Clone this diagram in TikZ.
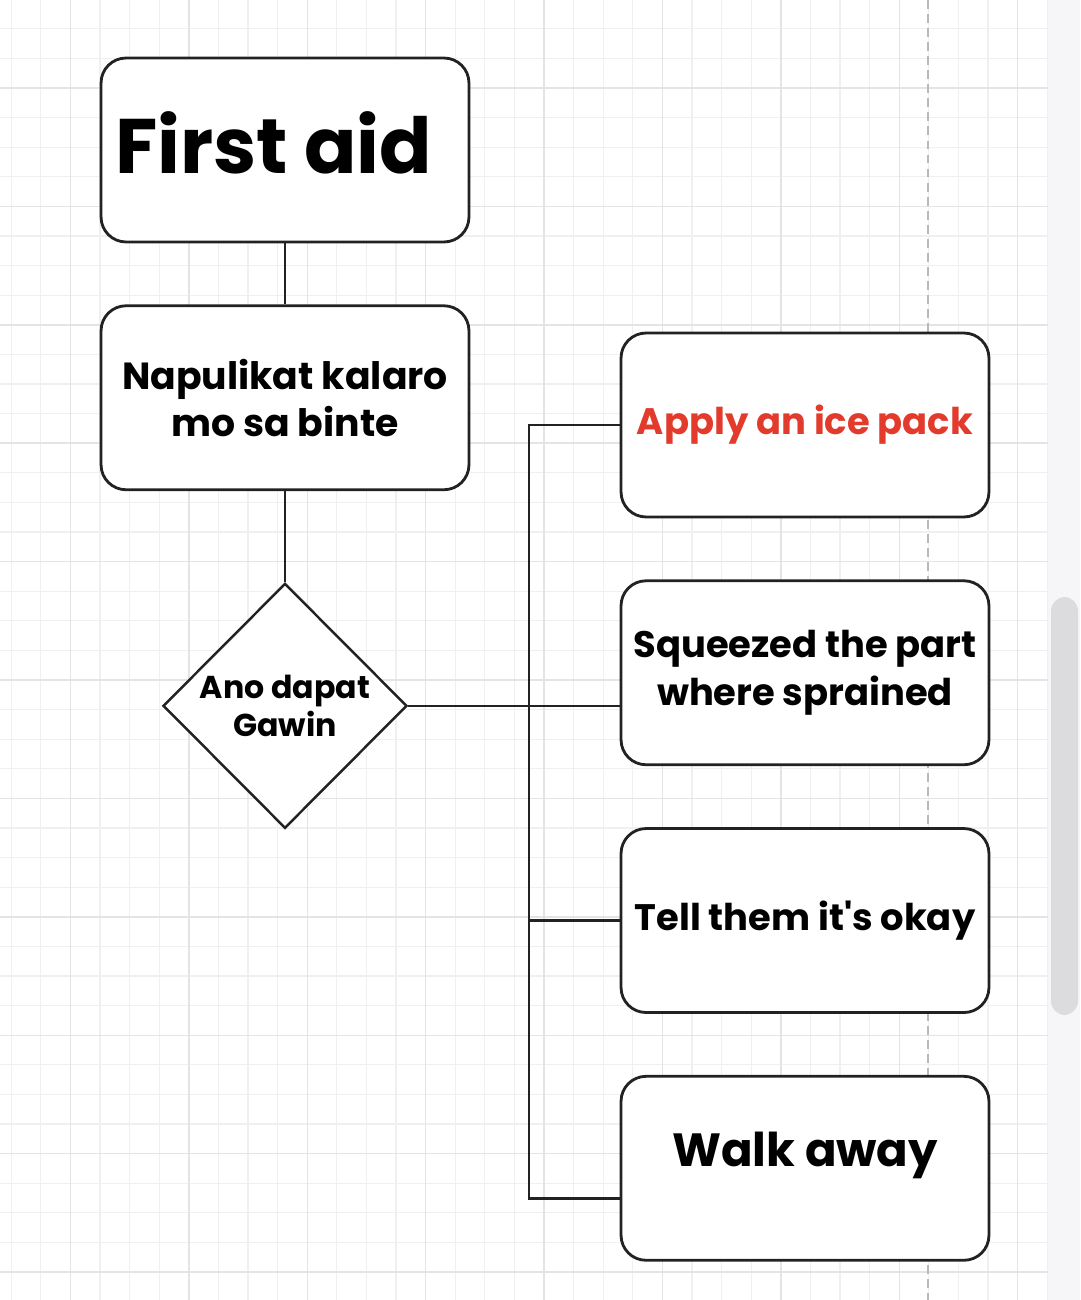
\documentclass[tikz,border=0pt]{standalone}
\usepackage{fontspec}
\setmainfont{Poppins}[Ligatures=TeXOff]
\usetikzlibrary{positioning, shapes.geometric}

\definecolor{gridminor}{HTML}{F0F0F0}
\definecolor{gridmajor}{HTML}{E4E4E4}
\definecolor{edge}{HTML}{222222}
\definecolor{alertred}{HTML}{E23A2B}
\definecolor{panel}{HTML}{F6F6F8}
\definecolor{thumb}{HTML}{DCDCDE}

\begin{document}
\begin{tikzpicture}[
    x=0.02cm, y=-0.02cm, node distance=1.22cm,
    box/.style={rectangle, draw=edge, line width=1.6pt, rounded corners=0.5cm,
                fill=white, minimum width=7.36cm, minimum height=3.68cm,
                inner sep=2pt, align=center,
                font=\fontsize{21}{27}\selectfont\bfseries},
    choice/.style={diamond, draw=edge, line width=1.4pt, fill=white,
                   inner sep=0pt, minimum width=4.88cm, minimum height=4.9cm,
                   align=center, font=\fontsize{18}{22}\selectfont\bfseries},
    link/.style={draw=edge, line width=1.5pt}
]
  % canvas
  \useasboundingbox (0,0) rectangle (1080,1300);
  \fill[white] (0,0) rectangle (1048,1300);
  \foreach \i in {0,...,35}
    \draw[gridminor, line width=0.6pt] (11.2+\i*29.6,0) -- (11.2+\i*29.6,1300);
  \foreach \i in {0,...,43}
    \draw[gridminor, line width=0.6pt] (0,28.8+\i*29.6) -- (1048,28.8+\i*29.6);
  \foreach \i in {0,...,8}
    \draw[gridmajor, line width=0.8pt] (70.4+\i*118.4,0) -- (70.4+\i*118.4,1300);
  \foreach \i in {0,...,10}
    \draw[gridmajor, line width=0.8pt] (0,88+\i*118.4) -- (1048,88+\i*118.4);
  \draw[gray!55, line width=0.8pt, dash pattern=on 5pt off 3pt] (928,0) -- (928,1300);
  \fill[panel] (1048,0) rectangle (1080,1300);
  \fill[thumb, rounded corners=0.28cm] (1051,597) rectangle (1078,1015);

  % flow
  \node[box, text depth=0.3cm,
        font=\fontsize{44}{50}\selectfont\bfseries] (aid) at (285,150) {First aid\hspace*{0.45cm}};
  \node[box, below=of aid, font=\fontsize{21.5}{27}\selectfont\bfseries,
        text depth=-0.1cm] (sprain) {Napulikat kalaro\\mo sa binte};
  \node[choice, below=1.82cm of sprain] (gawin) {Ano dapat\\Gawin};

  \node[box, text=alertred] (ice) at (805,425) {Apply an ice pack};
  \node[box, below=of ice] (squeeze) {Squeezed the part\\where sprained};
  \node[box, below=of squeeze] (tell) {Tell them it's okay};
  \node[box, below=of tell, text depth=0.75cm,
        font=\fontsize{26.5}{32}\selectfont\bfseries] (walk) {Walk away};

  \coordinate (trunk) at (529,0);
  \coordinate (walkin) at ([yshift=-0.6cm]walk.west);

  \draw[link] (aid) -- (sprain);
  \draw[link] (sprain) -- (gawin);
  \draw[link] (gawin.east) -- (gawin.east -| squeeze.west);
  \draw[link] (ice.west) -- (ice.west -| trunk) -- (trunk |- walkin) -- (walkin);
  \draw[link] (tell.west -| trunk) -- (tell.west);
\end{tikzpicture}
\end{document}
